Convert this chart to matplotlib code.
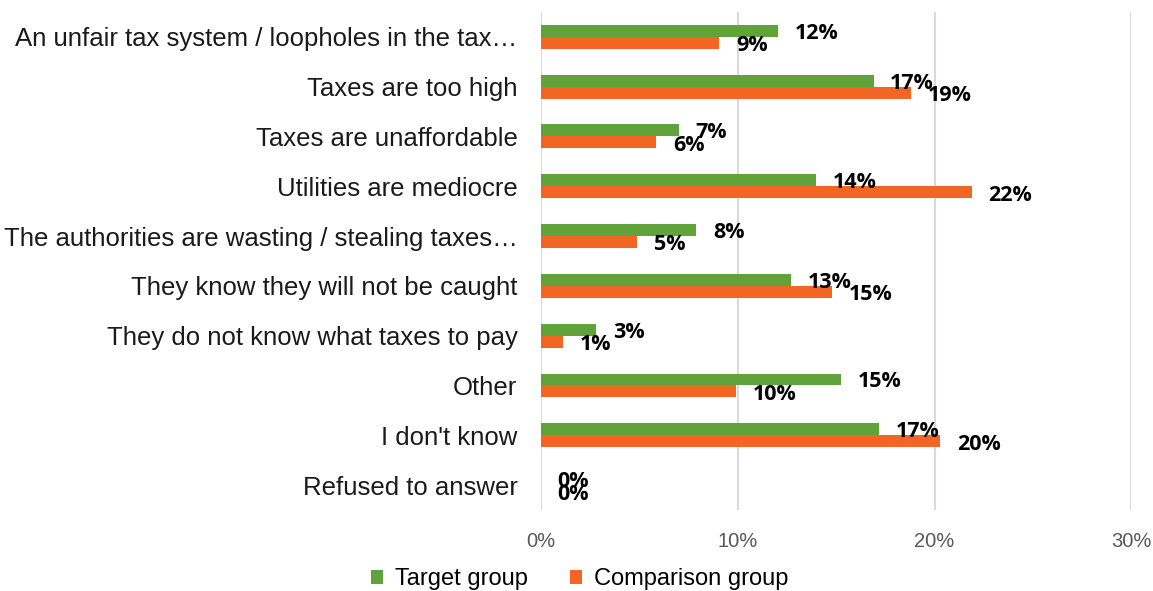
import numpy as np
import matplotlib
matplotlib.use("Agg")
import matplotlib.pyplot as plt

# ── data ──────────────────────────────────────────────────────────────────────
reasons = [
    "An unfair tax system / loopholes in the tax\u2026",
    "Taxes are too high",
    "Taxes are unaffordable",
    "Utilities are mediocre",
    "The authorities are wasting / stealing taxes\u2026",
    "They know they will not be caught",
    "They do not know what taxes to pay",
    "Other",
    "I don't know",
    "Refused to answer",
]
target     = [12.05, 16.9, 7.0, 14.0, 7.9, 12.7, 2.8, 15.25, 17.2, 0.0]
comparison = [9.05, 18.8, 5.85, 21.9, 4.9, 14.8, 1.1, 9.9, 20.3, 0.0]

GREEN  = "#5fa33a"
ORANGE = "#f26522"

plt.rcParams["font.family"] = ["Liberation Sans", "DejaVu Sans"]

fig = plt.figure(figsize=(11.53, 5.91), dpi=100)
ax = fig.add_axes([0.4692, 0.137, 0.512, 0.843])

y = np.arange(len(reasons))
h = 0.24
ax.barh(y - h / 2, target, height=h, color=GREEN, label="Target group", zorder=3)
ax.barh(y + h / 2, comparison, height=h, color=ORANGE, label="Comparison group", zorder=3)

# value labels just past the bar ends
dx = 0.85
lab_font = ["Open Sans", "DejaVu Sans"]
for yi, v in zip(y, target):
    ax.text(v + dx, yi - h / 2 + 0.05, f"{v:.0f}%", va="center", ha="left",
            fontsize=15.5, fontweight="bold", family=lab_font, zorder=4)
for yi, v in zip(y, comparison):
    ax.text(v + dx, yi + h / 2 + 0.06, f"{v:.0f}%", va="center", ha="left",
            fontsize=15.5, fontweight="bold", family=lab_font, zorder=4)

ax.set_ylim(len(reasons) - 0.5, -0.5)
ax.set_xlim(0, 30)
ax.set_xticks([0, 10, 20, 30])
ax.set_xticklabels(["0%", "10%", "20%", "30%"], color="#595959", fontsize=14.5)
ax.set_yticks(y)
ax.set_yticklabels(reasons, fontsize=18.5, color="#1a1a1a")
ax.tick_params(axis="both", length=0)
ax.tick_params(axis="x", pad=16)
ax.tick_params(axis="y", pad=17)
ax.grid(axis="x", color="#d9d9d9", lw=1.5, zorder=0)
for s in ax.spines.values():
    s.set_visible(False)

ax.legend(loc="upper center", bbox_to_anchor=(0.066, -0.112), ncol=2, frameon=False,
          fontsize=17, handlelength=0.5, handleheight=0.5, handletextpad=0.5,
          columnspacing=1.8, borderaxespad=0, borderpad=0.1)

fig.savefig("out.png", dpi=100)
